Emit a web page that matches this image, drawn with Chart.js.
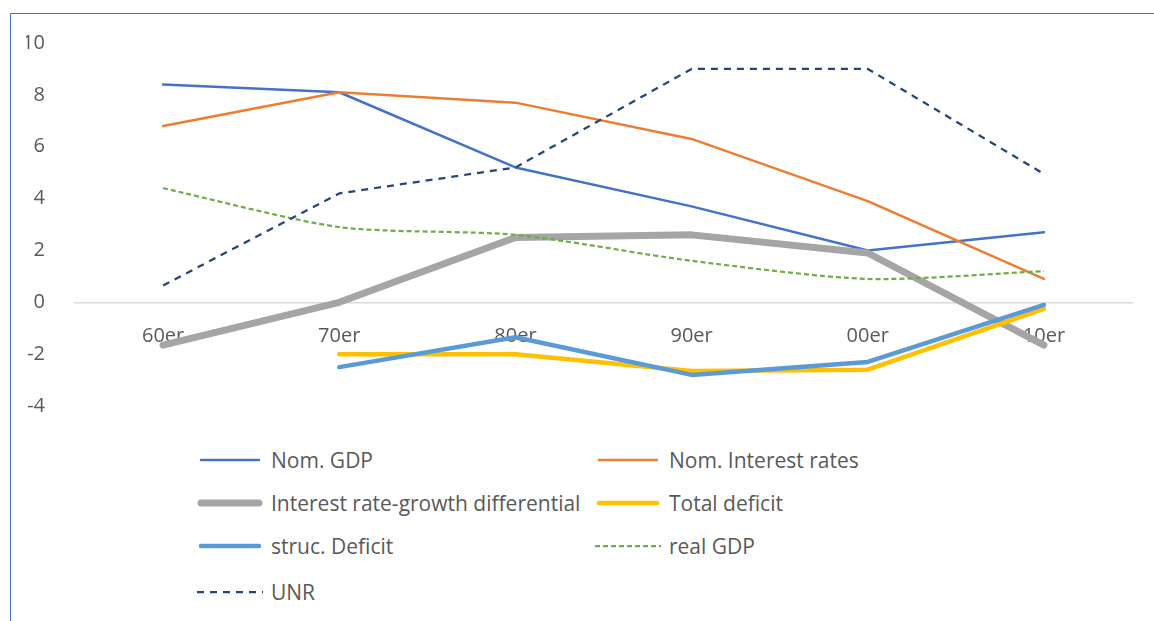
<!DOCTYPE html>
<html>
<head>
<meta charset="utf-8">
<script src="https://cdn.jsdelivr.net/npm/chart.js@4/dist/chart.umd.min.js"></script>
<style>
  body { margin: 0; background: #fff; width: 1154px; height: 621px; overflow: hidden; font-family: 'Open Sans', sans-serif; }
  .frame { position: absolute; left: 10px; top: 13px; width: 1150px; height: 620px; border-left: 1.5px solid #4472C4; border-top: 1.5px solid #4472C4; }
  .wrap { position: absolute; left: 0; top: 0; width: 1154px; height: 440px; }
  .legend { position: absolute; left: 0; top: 0; }
  .item { position: absolute; display: flex; align-items: center; font-size: 21px; color: #595959; white-space: nowrap; }
  .item canvas { margin-right: 8px; }
</style>
</head>
<body>
<div class="frame"></div>
<div class="wrap"><canvas id="chartCanvas" width="1154" height="440"></canvas></div>
<div class="legend" id="legend"></div>
<script>
// decades on the x axis
const decades = ['60er', '70er', '80er', '90er', '00er', '10er']
const nomGdp = [8.4, 8.1, 5.2, 3.7, 2.0, 2.7]
const nomInterest = [6.8, 8.1, 7.7, 6.3, 3.9, 0.9]
const rateGrowthDiff = [-1.65, 0.0, 2.5, 2.6, 1.9, -1.65]
const totalDeficit = [null, -2.0, -2.0, -2.65, -2.6, -0.25]
const strucDeficit = [null, -2.5, -1.35, -2.8, -2.3, -0.1]
const realGdp = [4.4, 2.9, 2.6, 1.6, 0.9, 1.2]
const unr = [0.65, 4.2, 5.2, 9.0, 9.0, 4.95]
const yTicks = [-4, -2, 0, 2, 4, 6, 8, 10]

const series = [
    { label: 'Nom. GDP', data: nomGdp, color: '#4472C4', width: 2.5 },
    { label: 'Nom. Interest rates', data: nomInterest, color: '#ED7D31', width: 2.5 },
    { label: 'Interest rate-growth differential', data: rateGrowthDiff, color: '#A5A5A5', width: 7 },
    { label: 'Total deficit', data: totalDeficit, color: '#FFC000', width: 4.5 },
    { label: 'struc. Deficit', data: strucDeficit, color: '#5B9BD5', width: 4.5 },
    { label: 'real GDP', data: realGdp, color: '#70AD47', width: 2.25, dash: [5, 3], tension: 0.25 },
    { label: 'UNR', data: unr, color: '#264478', width: 2.25, dash: [7, 6] }
]

const datasets = series.map(s => ({
    label: s.label,
    data: s.data,
    borderColor: s.color,
    backgroundColor: s.color,
    borderWidth: s.width,
    borderDash: s.dash || [],
    borderCapStyle: s.dash ? 'butt' : 'round',
    borderJoinStyle: 'round',
    tension: s.tension || 0,
    pointRadius: 0,
    pointHoverRadius: 0,
    fill: false
})).reverse()

const tickFont = { family: 'Open Sans', size: 20 }

const config = {
    type: 'line',
    data: { labels: decades, datasets: datasets },
    options: {
        responsive: false,
        animation: false,
        layout: { padding: { left: 26, top: 43, right: 22, bottom: 30 } },
        plugins: { legend: { display: false }, tooltip: { enabled: false } },
        scales: {
            x: {
                position: { y: 0 },
                offset: true,
                grid: { display: false },
                border: { display: true, color: '#D9D9D9', width: 1.5 },
                ticks: { color: '#595959', font: tickFont, padding: 14, maxRotation: 0 }
            },
            y: {
                min: -4,
                max: 10,
                afterFit: scale => { scale.width = 49 },
                afterBuildTicks: scale => { scale.ticks = yTicks.map(v => ({ value: v })) },
                grid: { display: false },
                border: { display: false },
                ticks: { color: '#595959', font: tickFont, padding: 22 }
            }
        }
    }
}
const myChart = new Chart(document.getElementById('chartCanvas'), config)

// legend in two columns like the spreadsheet one
const legendPos = [
    [197, 461], [595, 461],
    [197, 504], [595, 504],
    [197, 547], [595, 547],
    [197, 593]
]
const legend = document.getElementById('legend')
series.forEach((s, i) => {
    const item = document.createElement('div')
    item.className = 'item'
    const c = document.createElement('canvas')
    c.width = 66
    c.height = 12
    const ctx = c.getContext('2d')
    ctx.strokeStyle = s.color
    ctx.lineWidth = s.width
    ctx.lineCap = s.dash ? 'butt' : 'round'
    ctx.setLineDash(s.dash || [])
    ctx.beginPath()
    ctx.moveTo(s.dash ? 0 : 4, 6)
    ctx.lineTo(s.dash ? 66 : 62, 6)
    ctx.stroke()
    item.appendChild(c)
    const t = document.createElement('span')
    t.textContent = s.label
    item.appendChild(t)
    item.style.left = legendPos[i][0] + 'px'
    item.style.top = (legendPos[i][1] - 15) + 'px'
    legend.appendChild(item)
})
</script>
</body>
</html>
